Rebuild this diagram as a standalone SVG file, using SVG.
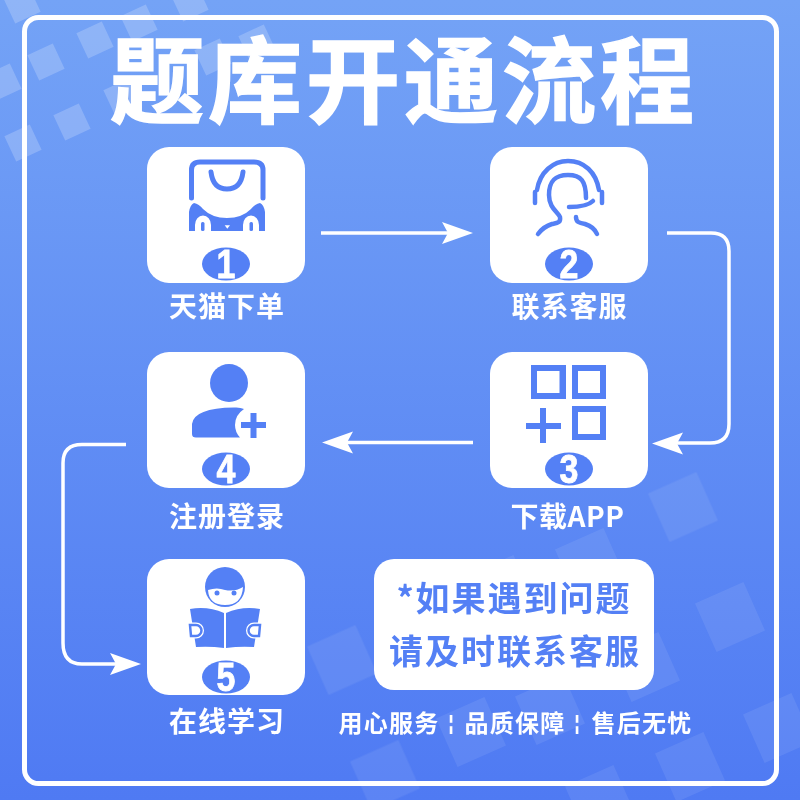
<svg xmlns="http://www.w3.org/2000/svg" width="800" height="800" viewBox="0 0 800 800">
<defs>
<linearGradient id="bg" x1="0" y1="0" x2="0" y2="1"><stop offset="0" stop-color="#74a3f6"/><stop offset="1" stop-color="#4f7af3"/></linearGradient>
<rect id="sq" x="-14" y="-14" width="28" height="28" fill="#fff" transform="rotate(-25)"/>
<rect id="lg" x="-26.500" y="-26.500" width="53" height="53" fill="#fff" transform="rotate(-24)"/>
<path id="ah" d="M0 0L-31 -11L-25 0L-31 11Z" fill="#fff"/>
</defs>
<style>
.card{fill:#fff}
.ic{fill:#5480f5}
.st{fill:none;stroke:#5480f5;stroke-linecap:round;stroke-linejoin:round}
.wire{fill:none;stroke:#fff;stroke-width:3.5}
text{font-family:"Noto Sans CJK SC","Liberation Sans",sans-serif;fill:#fff;text-anchor:middle}
.lab{font-size:28px;font-weight:700;letter-spacing:1px}
.num{font-family:"Liberation Sans",sans-serif;font-size:40px;font-weight:700;stroke:#fff;stroke-width:.8px}
.note{font-size:34px;font-weight:700;fill:#5480f5;letter-spacing:2px}
.foot{font-size:24px;font-weight:700;letter-spacing:1.300px}
.sep{font-family:"Liberation Sans",sans-serif;font-size:20px;font-weight:700}
</style>
<rect width="800" height="800" fill="url(#bg)"/>
<g opacity=".2">
<use href="#sq" x="22" y="5"/><use href="#sq" x="3" y="82"/><use href="#sq" x="46" y="62"/><use href="#sq" x="95" y="40"/><use href="#sq" x="139" y="23"/><use href="#sq" x="190" y="3"/><use href="#sq" x="122" y="97"/><use href="#sq" x="72" y="122"/><use href="#sq" x="23" y="143"/><use href="#sq" x="213" y="57"/><use href="#sq" x="257" y="43"/>
</g>
<g opacity=".08">
<use href="#lg" x="683" y="507"/><use href="#lg" x="730" y="617"/><use href="#lg" x="590" y="563"/><use href="#lg" x="645" y="667"/><use href="#lg" x="471" y="732"/><use href="#lg" x="690" y="767"/><use href="#lg" x="778" y="728"/><use href="#lg" x="550" y="710"/><use href="#lg" x="500" y="590"/><use href="#lg" x="600" y="800"/><use href="#lg" x="342" y="660"/><use href="#lg" x="385" y="775"/>
</g>
<rect x="24.500" y="17.500" width="752" height="766" rx="14" fill="none" stroke="#fff" stroke-width="5"/>
<text x="404" y="116" font-size="94" font-weight="700" letter-spacing="4" stroke="#fff" stroke-width="1.500">题库开通流程</text>
<g id="connectors">
<path class="wire" d="M321 233H450"/><use href="#ah" x="473" y="233"/>
<path class="wire" d="M667 233H711Q729 233 729 251V424Q729 443 710 443H675"/><use href="#ah" transform="translate(652 443.500) rotate(180)"/>
<path class="wire" d="M473 442.500H345"/><use href="#ah" transform="translate(322 442.500) rotate(180)"/>
<path class="wire" d="M126 444.500H82Q63 444.500 63 463V643Q63 664 82 664H118"/><use href="#ah" x="141" y="664"/>
</g>
<g id="node1">
<rect class="card" x="147" y="147" width="158" height="136" rx="22"/>
<path class="st" stroke-width="5" d="M191.500 198V170Q191.500 162 200 162H254Q263 162 263 170V198"/>
<path class="st" stroke-width="5" d="M211 172Q213 189 227 189Q241 189 243 172"/>
<path class="ic" d="M189 231V212Q190 205 194 203Q199 204 203 209Q212 218 227 218Q242 218 251 209Q255 204 260 203Q264 205 265 212V231Z"/>
<path d="M195 231V225A8 9.500 0 0 1 211 225V231ZM243 231V225A8 9.500 0 0 1 259 225V231Z" fill="#fff"/>
<rect class="ic" x="201" y="222" width="3.500" height="9" rx="1.500"/><rect class="ic" x="249.500" y="222" width="3.500" height="9" rx="1.500"/>
<path d="M224.700 225.300H230L227.300 228.700Z" fill="#fff"/>
<ellipse cx="226" cy="264" rx="24" ry="16.500" class="ic"/><text class="num" transform="translate(226 278) scale(.85 1)">1</text>
<text class="lab" x="227" y="317">天猫下单</text>
</g>
<g id="node2">
<rect class="card" x="490" y="147" width="158" height="136" rx="22"/>
<g class="st" stroke-width="4.500">
<path d="M535 192V203M602 192V203"/>
<path d="M537 190C540 172 553 161 568 161C584 161 596 172 599 190"/>
<path d="M586 198C586 181 581 175 568 175C555 175 549 181 549 195C549 208 558 212 560 217C561 223 557 223 552 224C545 226 541 230 538 234"/>
<path d="M569 207C580 207 588 206 593 201"/>
<path d="M576 217C576 222 579 223 585 224C591 226 595 229 597 234"/>
</g>
<ellipse cx="569" cy="264" rx="24" ry="16.500" class="ic"/><text class="num" transform="translate(569 278) scale(.85 1)">2</text>
<text class="lab" x="569.500" y="317">联系客服</text>
</g>
<g id="node3">
<rect class="card" x="490" y="352" width="158" height="136" rx="22"/>
<path class="ic" fill-rule="evenodd" d="M531 365H566V399H531ZM537 371V393H559.500V371Z"/>
<path class="ic" fill-rule="evenodd" d="M572 365H606V399H572ZM578 371V393H600V371Z"/>
<path class="ic" fill-rule="evenodd" d="M572 406H606V440H572ZM578 412V434H600V412Z"/>
<path class="st" stroke-width="6" style="stroke-linecap:butt" d="M526 426H561M543 408V443"/>
<ellipse cx="569" cy="469" rx="24" ry="16.500" class="ic"/><text class="num" transform="translate(569 483) scale(.85 1)">3</text>
<text class="lab" x="567.500" y="527" style="letter-spacing:.5px">下载APP</text>
</g>
<g id="node4">
<rect class="card" x="147" y="352" width="158" height="136" rx="22"/>
<circle class="ic" cx="229" cy="383" r="19"/>
<path class="ic" d="M192 434V424Q194 408 234 407.500Q240 407 244 409Q235 415 235 425Q235 432 240 437.500H196Q192 437.500 192 434Z"/>
<path class="st" stroke-width="6" style="stroke-linecap:butt" d="M241 425H266M253.500 413V438"/>
<ellipse cx="226" cy="469" rx="24" ry="16.500" class="ic"/><text class="num" transform="translate(226 483) scale(.85 1)">4</text>
<text class="lab" x="227" y="527">注册登录</text>
</g>
<g id="node5">
<rect class="card" x="147" y="559" width="158" height="136" rx="22"/>
<path class="ic" d="M190 609Q208 606 224 613V648Q210 646 196 647Z"/>
<path class="ic" d="M226 613Q242 606 260 609L254 647Q240 646 226 648Z"/>
<circle cx="225" cy="587" r="24" fill="#fff"/>
<circle class="ic" cx="225" cy="587" r="20"/>
<path d="M208 590Q217 587 225 590Q235 592 243 587Q242 605 225 605Q209 605 208 590Z" fill="#fff"/>
<circle class="ic" cx="217" cy="593" r="2.500"/><circle class="ic" cx="234" cy="593" r="2.500"/>
<path d="M190 625H196A5.500 5.500 0 0 1 196 636H191Z" fill="#fff" stroke="#fff" stroke-width="5"/>
<path d="M190 625H196A5.500 5.500 0 0 1 196 636H191Z" fill="#fff" stroke="#5480f5" stroke-width="2.500"/>
<path d="M260 625H254A5.500 5.500 0 0 0 254 636H259Z" fill="#fff" stroke="#fff" stroke-width="5"/>
<path d="M260 625H254A5.500 5.500 0 0 0 254 636H259Z" fill="#fff" stroke="#5480f5" stroke-width="2.500"/>
<ellipse cx="226" cy="677" rx="24" ry="16.500" class="ic"/><text class="num" transform="translate(226 691) scale(.85 1)">5</text>
<text class="lab" x="227" y="732">在线学习</text>
</g>
<g id="note">
<rect class="card" x="374" y="559" width="280" height="131" rx="20"/>
<text class="note" x="514" y="611">*如果遇到问题</text>
<text class="note" x="515" y="664">请及时联系客服</text>
</g>
<g id="footer">
<text class="foot" x="389" y="732">用心服务</text>
<text class="sep" x="451" y="730">¦</text>
<text class="foot" x="515" y="732">品质保障</text>
<text class="sep" x="577" y="730">¦</text>
<text class="foot" x="642" y="732">售后无忧</text>
</g>
</svg>
